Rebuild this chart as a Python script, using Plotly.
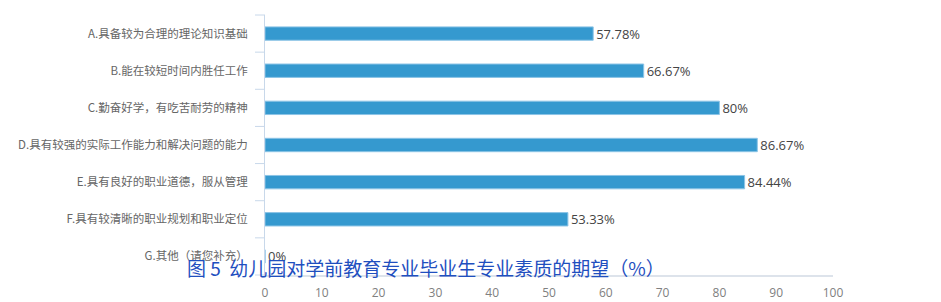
import plotly.graph_objects as go

categories = [
    "A.具备较为合理的理论知识基础",
    "B.能在较短时间内胜任工作",
    "C.勤奋好学，有吃苦耐劳的精神",
    "D.具有较强的实际工作能力和解决问题的能力",
    "E.具有良好的职业道德，服从管理",
    "F.具有较清晰的职业规划和职业定位",
    "G.其他（请您补充）",
]
values = [57.78, 66.67, 80, 86.67, 84.44, 53.33, 0]
value_labels = ["57.78%", "66.67%", "80%", "86.67%", "84.44%", "53.33%", "0%"]
x_ticks = [0, 10, 20, 30, 40, 50, 60, 70, 80, 90, 100]
title_text = "图 5  幼儿园对学前教育专业毕业生专业素质的期望（%）"

L, R, T, B = 265, 108, 15, 27
W, H = 941, 302
pw, ph = W - L - R, H - T - B

fig = go.Figure()
fig.add_trace(go.Bar(
    y=categories,
    x=values,
    orientation="h",
    marker=dict(color="#3599cf", line=dict(color="#8cc4e6", width=1)),
    text=value_labels,
    textposition="outside",
    constraintext="none",
    textfont=dict(family="Open Sans, Noto Sans CJK SC, sans-serif", size=13, color="#444444"),
    cliponaxis=False,
    width=0.36,
    hoverinfo="skip",
))

fig.update_layout(
    width=W, height=H,
    margin=dict(l=L, r=R, t=T, b=B),
    paper_bgcolor="white", plot_bgcolor="white",
    showlegend=False,
    font=dict(family="Noto Sans CJK SC, sans-serif", color="#666666"),
    xaxis=dict(
        range=[0, 100], tickvals=x_ticks, showgrid=False, zeroline=False,
        showline=True, linecolor="#dde3eb", linewidth=2,
        ticks="", tickfont=dict(size=12, color="#808080", family="Open Sans, sans-serif"),
        ticklabelstandoff=6, automargin=False,
        fixedrange=True,
    ),
    yaxis=dict(
        categoryorder="array", categoryarray=categories[::-1],
        showgrid=False, zeroline=False, showline=True,
        linecolor="#c8d8ea", linewidth=1,
        ticks="", tickfont=dict(size=11.5, color="#666666"),
        ticklabelstandoff=14, automargin=False,
        fixedrange=True,
    ),
    annotations=[dict(
        text=title_text, xref="paper", yref="paper",
        x=(426 - L) / pw, y=(H - B - 267) / ph,
        xanchor="center", yanchor="middle", showarrow=False,
        font=dict(size=19, color="#1f4fbf", family="Noto Sans CJK SC, sans-serif"),
    )],
)

# category boundary tick marks on the left of the y axis
for i in range(len(categories) + 1):
    fig.add_shape(type="line", xref="paper", yref="paper",
                  x0=-10 / pw, x1=0, y0=i / len(categories), y1=i / len(categories),
                  line=dict(color="#c8d8ea", width=1))

fig.write_html("out.html")
